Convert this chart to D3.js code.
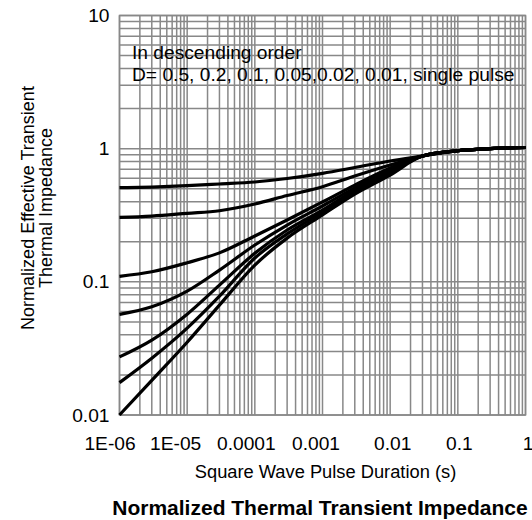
<!DOCTYPE html>
<html>
<head>
<meta charset="utf-8">
<script src="https://cdn.jsdelivr.net/npm/d3@7"></script>
<style>
  body { margin: 0; background: #fff; }
  svg { display: block; font-family: "Liberation Sans", Arial, sans-serif; }
</style>
</head>
<body>
<div id="chart"></div>
<script>
const pulseDurations = [1e-6, 3e-6, 1e-5, 3e-5, 1e-4, 3e-4, 1e-3, 3e-3, 1e-2, 3e-2, 1e-1, 3e-1, 1];

// normalized effective transient thermal impedance, one array per duty cycle
const dutyLabels = ["0.5", "0.2", "0.1", "0.05", "0.02", "0.01", "single pulse"];
const zD050 = [0.509, 0.515, 0.527, 0.543, 0.562, 0.597, 0.653, 0.722, 0.808, 0.88, 0.965, 1.0, 1.02];
const zD020 = [0.305, 0.312, 0.327, 0.342, 0.384, 0.445, 0.518, 0.623, 0.754, 0.88, 0.965, 1.0, 1.02];
const zD010 = [0.110, 0.119, 0.139, 0.165, 0.221, 0.291, 0.398, 0.533, 0.716, 0.88, 0.965, 1.0, 1.02];
const zD005 = [0.0569, 0.0649, 0.0851, 0.1225, 0.189, 0.267, 0.371, 0.507, 0.691, 0.88, 0.965, 1.0, 1.02];
const zD002 = [0.0273, 0.0365, 0.0572, 0.0945, 0.164, 0.245, 0.346, 0.489, 0.668, 0.88, 0.965, 1.0, 1.02];
const zD001 = [0.0175, 0.0267, 0.0449, 0.078, 0.151, 0.229, 0.334, 0.473, 0.657, 0.88, 0.965, 1.0, 1.02];
const zSingle = [0.0100, 0.0182, 0.0352, 0.0668, 0.1335, 0.213, 0.318, 0.456, 0.634, 0.88, 0.965, 1.0, 1.02];

const xTickValues = [1e-6, 1e-5, 1e-4, 1e-3, 1e-2, 1e-1, 1];
const xTickLabels = ["1E-06", "1E-05", "0.0001", "0.001", "0.01", "0.1", "1"];
const yTickValues = [0.01, 0.1, 1, 10];
const yTickLabels = ["0.01", "0.1", "1", "10"];

document.addEventListener("DOMContentLoaded", function () {
  const width = 532;
  const height = 520;
  const margin = { top: 15.5, right: 6.5, bottom: 105, left: 119.5 };
  const innerWidth = width - margin.left - margin.right;
  const innerHeight = height - margin.top - margin.bottom;

  // the original tick labels sit a little off their grid lines
  const xLabelShift = [-10, -12, -9, -7, 2, 1, 2];

  const series = [zD050, zD020, zD010, zD005, zD002, zD001, zSingle];

  const svg = d3.select("#chart")
    .append("svg")
    .attr("width", width)
    .attr("height", height);

  const g = svg.append("g")
    .attr("transform", `translate(${margin.left},${margin.top})`);

  const xScale = d3.scaleLog()
    .domain([1e-6, 1])
    .range([0, innerWidth]);

  const yScale = d3.scaleLog()
    .domain([0.01, 10])
    .range([innerHeight, 0]);

  // grid: every 1..9 subdivision of each decade
  g.append("g")
    .selectAll("line")
    .data(xScale.ticks())
    .join("line")
    .attr("x1", (d) => xScale(d))
    .attr("x2", (d) => xScale(d))
    .attr("y1", 0)
    .attr("y2", innerHeight)
    .attr("stroke", "#888")
    .attr("stroke-width", 1.5);

  g.append("g")
    .selectAll("line")
    .data(yScale.ticks())
    .join("line")
    .attr("y1", (d) => yScale(d))
    .attr("y2", (d) => yScale(d))
    .attr("x1", 0)
    .attr("x2", innerWidth)
    .attr("stroke", "#888")
    .attr("stroke-width", 1.5);

  g.append("rect")
    .attr("width", innerWidth)
    .attr("height", innerHeight)
    .attr("fill", "none")
    .attr("stroke", "#888")
    .attr("stroke-width", 1.5);

  // note text sits on top of the grid, no background
  g.append("text")
    .attr("x", 12.5)
    .attr("y", 43.5)
    .attr("font-size", 19.2)
    .attr("fill", "#000")
    .text("In descending order");

  g.append("text")
    .attr("x", 12.5)
    .attr("y", 65.5)
    .attr("font-size", 19.2)
    .attr("fill", "#000")
    .text("D= " + dutyLabels.slice(0, 3).join(", ") + ", " + dutyLabels[3] + "," + dutyLabels.slice(4).join(", "));

  const lineGenerator = d3.line()
    .x((d, i) => xScale(pulseDurations[i]))
    .y((d) => yScale(d))
    .curve(d3.curveMonotoneX);

  g.append("g")
    .selectAll("path")
    .data(series)
    .join("path")
    .attr("fill", "none")
    .attr("stroke", "#000")
    .attr("stroke-width", 3.2)
    .attr("stroke-linejoin", "round")
    .attr("d", lineGenerator);

  // axes (labels only)
  const xAxis = g.append("g")
    .attr("transform", `translate(0,${innerHeight})`)
    .call(d3.axisBottom(xScale)
      .tickValues(xTickValues)
      .tickFormat((d, i) => xTickLabels[i])
      .tickSize(0)
      .tickPadding(21));

  const yAxis = g.append("g")
    .call(d3.axisLeft(yScale)
      .tickValues(yTickValues)
      .tickFormat((d, i) => yTickLabels[i])
      .tickSize(0)
      .tickPadding(10));

  [xAxis, yAxis].forEach((ax) => {
    ax.select(".domain").remove();
    ax.selectAll("text")
      .attr("font-size", 19.2)
      .attr("font-family", "Liberation Sans, Arial, sans-serif")
      .attr("fill", "#000");
  });

  xAxis.selectAll("text")
    .attr("dx", (d, i) => xLabelShift[i]);

  svg.append("text")
    .attr("x", margin.left + innerWidth / 2 + 3)
    .attr("y", 478)
    .attr("text-anchor", "middle")
    .attr("font-size", 18.3)
    .text("Square Wave Pulse Duration (s)");

  const yTitle = svg.append("text")
    .attr("transform", "translate(0,208) rotate(-90)")
    .attr("text-anchor", "middle")
    .attr("font-size", 18);
  yTitle.append("tspan").attr("x", 0).attr("y", 34).text("Normalized Effective Transient");
  yTitle.append("tspan").attr("x", 0).attr("y", 52).text("Thermal Impedance");

  svg.append("text")
    .attr("x", 320)
    .attr("y", 515)
    .attr("text-anchor", "middle")
    .attr("font-size", 21)
    .attr("font-weight", "bold")
    .text("Normalized Thermal Transient Impedance");
});
</script>
</body>
</html>
